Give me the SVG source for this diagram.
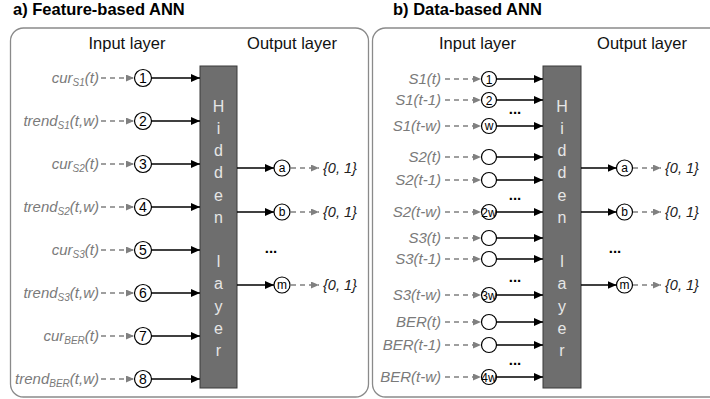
<svg xmlns="http://www.w3.org/2000/svg" width="710" height="399" viewBox="0 0 710 399">
  <defs>
    <style>
      .panel { fill: #ffffff; stroke: #8a8a8a; stroke-width: 1.3; }
      .title { font-family: "Liberation Sans", Arial, sans-serif; font-weight: bold; font-size: 16.5px; fill: #000; }
      .layer { font-family: "Liberation Sans", Arial, sans-serif; font-size: 16.5px; fill: #111; text-anchor: middle; }
      .lbl { font-family: "Liberation Sans", Arial, sans-serif; font-style: italic; font-size: 15px; fill: #7a7a7a; text-anchor: end; }
      .out { font-family: "Liberation Sans", Arial, sans-serif; font-style: italic; font-size: 14.5px; fill: #222; }
      .node { fill: #ffffff; stroke: #000; stroke-width: 1.2; }
      .num { font-family: "Liberation Sans", Arial, sans-serif; font-size: 14px; fill: #000; text-anchor: middle; }
      .numsm { font-family: "Liberation Sans", Arial, sans-serif; font-size: 12px; fill: #000; text-anchor: middle; }
      .hidden { fill: #6e6e6e; stroke: #3a3a3a; stroke-width: 1; }
      .hid { font-family: "Liberation Sans", Arial, sans-serif; font-size: 16px; fill: #e6e6e6; text-anchor: middle; }
      .dots { font-family: "Liberation Sans", Arial, sans-serif; font-weight: bold; font-size: 15px; fill: #000; text-anchor: middle; }
      .solid { stroke: #000; stroke-width: 1.3; fill: none; marker-end: url(#arrowBlack); }
      .dash { stroke: #808080; stroke-width: 1.3; stroke-dasharray: 5 4; fill: none; marker-end: url(#arrowGray); }
    </style>
    <marker id="arrowBlack" viewBox="0 0 10 10" refX="10" refY="5" markerWidth="9" markerHeight="8" markerUnits="userSpaceOnUse" orient="auto" preserveAspectRatio="none">
      <path d="M0,0 L10,5 L0,10 z" fill="#000"/>
    </marker>
    <marker id="arrowGray" viewBox="0 0 10 10" refX="10" refY="5" markerWidth="8" markerHeight="7" markerUnits="userSpaceOnUse" orient="auto" preserveAspectRatio="none">
      <path d="M0,0 L10,5 L0,10 z" fill="#808080"/>
    </marker>
  </defs>

  <!-- ===== Panel a: feature-based network ===== -->
  <text class="title" x="13" y="15">a) Feature-based ANN</text>
  <rect id="panelA" class="panel" x="10.5" y="28" width="358" height="369" rx="13"/>
  <text class="layer" x="127" y="49">Input layer</text>
  <text class="layer" x="292" y="49">Output layer</text>

  <g id="hiddenA">
    <rect class="hidden" x="200" y="66" width="37" height="322"/>
    <text class="hid" x="218.5" y="112">H</text>
    <text class="hid" x="218.5" y="134">i</text>
    <text class="hid" x="218.5" y="156">d</text>
    <text class="hid" x="218.5" y="178">d</text>
    <text class="hid" x="218.5" y="201">e</text>
    <text class="hid" x="218.5" y="223">n</text>
    <text class="hid" x="218.5" y="267">l</text>
    <text class="hid" x="218.5" y="289">a</text>
    <text class="hid" x="218.5" y="312">y</text>
    <text class="hid" x="218.5" y="334">e</text>
    <text class="hid" x="218.5" y="356">r</text>
  </g>

  <g id="inputsA">
    <text class="lbl" x="99" y="83">cur<tspan font-size="10" dy="3">S1</tspan><tspan dy="-3">(t)</tspan></text>
    <text class="lbl" x="99" y="126">trend<tspan font-size="10" dy="3">S1</tspan><tspan dy="-3">(t,w)</tspan></text>
    <text class="lbl" x="99" y="169">cur<tspan font-size="10" dy="3">S2</tspan><tspan dy="-3">(t)</tspan></text>
    <text class="lbl" x="99" y="212">trend<tspan font-size="10" dy="3">S2</tspan><tspan dy="-3">(t,w)</tspan></text>
    <text class="lbl" x="99" y="255">cur<tspan font-size="10" dy="3">S3</tspan><tspan dy="-3">(t)</tspan></text>
    <text class="lbl" x="99" y="298">trend<tspan font-size="10" dy="3">S3</tspan><tspan dy="-3">(t,w)</tspan></text>
    <text class="lbl" x="99" y="341">cur<tspan font-size="10" dy="3">BER</tspan><tspan dy="-3">(t)</tspan></text>
    <text class="lbl" x="99" y="384">trend<tspan font-size="10" dy="3">BER</tspan><tspan dy="-3">(t,w)</tspan></text>
  </g>

  <g id="nodeA1"><circle class="node" cx="143" cy="78" r="8.5"/><text class="num" x="143" y="83">1</text></g>
  <g id="nodeA2"><circle class="node" cx="143" cy="121" r="8.5"/><text class="num" x="143" y="126">2</text></g>
  <g id="nodeA3"><circle class="node" cx="143" cy="164" r="8.5"/><text class="num" x="143" y="169">3</text></g>
  <g id="nodeA4"><circle class="node" cx="143" cy="207" r="8.5"/><text class="num" x="143" y="212">4</text></g>
  <g id="nodeA5"><circle class="node" cx="143" cy="250" r="8.5"/><text class="num" x="143" y="255">5</text></g>
  <g id="nodeA6"><circle class="node" cx="143" cy="293" r="8.5"/><text class="num" x="143" y="298">6</text></g>
  <g id="nodeA7"><circle class="node" cx="143" cy="336" r="8.5"/><text class="num" x="143" y="341">7</text></g>
  <g id="nodeA8"><circle class="node" cx="143" cy="379" r="8.5"/><text class="num" x="143" y="384">8</text></g>

  <g id="outA_a"><circle class="node" cx="282" cy="168" r="8"/><text class="numsm" x="282" y="172">a</text></g>
  <g id="outA_b"><circle class="node" cx="282" cy="212" r="8"/><text class="numsm" x="282" y="216">b</text></g>
  <g id="outA_m"><circle class="node" cx="282" cy="285" r="8"/><text class="numsm" x="282" y="289">m</text></g>
  <text class="dots" x="271" y="253">...</text>
  <text class="out" x="323" y="173">{0, 1}</text>
  <text class="out" x="323" y="217">{0, 1}</text>
  <text class="out" x="323" y="290">{0, 1}</text>

  <g id="connectorsA">
    <path class="dash" d="M101,78 H134"/>
    <path class="dash" d="M101,121 H134"/>
    <path class="dash" d="M101,164 H134"/>
    <path class="dash" d="M101,207 H134"/>
    <path class="dash" d="M101,250 H134"/>
    <path class="dash" d="M101,293 H134"/>
    <path class="dash" d="M101,336 H134"/>
    <path class="dash" d="M101,379 H134"/>
    <path class="solid" d="M151.5,78 H200"/>
    <path class="solid" d="M151.5,121 H200"/>
    <path class="solid" d="M151.5,164 H200"/>
    <path class="solid" d="M151.5,207 H200"/>
    <path class="solid" d="M151.5,250 H200"/>
    <path class="solid" d="M151.5,293 H200"/>
    <path class="solid" d="M151.5,336 H200"/>
    <path class="solid" d="M151.5,379 H200"/>
    <path class="solid" d="M237,168 H274"/>
    <path class="solid" d="M237,212 H274"/>
    <path class="solid" d="M237,285 H274"/>
    <path class="dash" d="M291,168 H319"/>
    <path class="dash" d="M291,212 H319"/>
    <path class="dash" d="M291,285 H319"/>
  </g>

  <!-- ===== Panel b: data-based network ===== -->
  <text class="title" x="393" y="15">b) Data-based ANN</text>
  <rect id="panelB" class="panel" x="372.5" y="28" width="350" height="369" rx="13"/>
  <text class="layer" x="477.5" y="49">Input layer</text>
  <text class="layer" x="642" y="49">Output layer</text>

  <g id="hiddenB">
    <rect class="hidden" x="543" y="66" width="38" height="322"/>
    <text class="hid" x="562" y="112">H</text>
    <text class="hid" x="562" y="134">i</text>
    <text class="hid" x="562" y="156">d</text>
    <text class="hid" x="562" y="178">d</text>
    <text class="hid" x="562" y="201">e</text>
    <text class="hid" x="562" y="223">n</text>
    <text class="hid" x="562" y="267">l</text>
    <text class="hid" x="562" y="289">a</text>
    <text class="hid" x="562" y="312">y</text>
    <text class="hid" x="562" y="334">e</text>
    <text class="hid" x="562" y="356">r</text>
  </g>

  <g id="inputsB">
    <text class="lbl" x="441" y="84">S1(t)</text>
    <text class="lbl" x="441" y="105">S1(t-1)</text>
    <text class="lbl" x="441" y="131">S1(t-w)</text>
    <text class="lbl" x="441" y="162">S2(t)</text>
    <text class="lbl" x="441" y="185">S2(t-1)</text>
    <text class="lbl" x="441" y="217">S2(t-w)</text>
    <text class="lbl" x="441" y="243">S3(t)</text>
    <text class="lbl" x="441" y="264">S3(t-1)</text>
    <text class="lbl" x="441" y="300">S3(t-w)</text>
    <text class="lbl" x="441" y="327">BER(t)</text>
    <text class="lbl" x="441" y="350">BER(t-1)</text>
    <text class="lbl" x="441" y="382">BER(t-w)</text>
  </g>

  <g id="nodeB1"><circle class="node" cx="489" cy="79" r="7.5"/><text class="numsm" x="489" y="83.5">1</text></g>
  <g id="nodeB2"><circle class="node" cx="489" cy="100" r="7.5"/><text class="numsm" x="489" y="104.5">2</text></g>
  <g id="nodeBw"><circle class="node" cx="489" cy="126" r="7.5"/><text class="numsm" x="489" y="130">w</text></g>
  <g id="nodeB4"><circle class="node" cx="489" cy="157" r="7.5"/></g>
  <g id="nodeB5"><circle class="node" cx="489" cy="180" r="7.5"/></g>
  <g id="nodeB2w"><circle class="node" cx="489" cy="212" r="7.5"/><text class="numsm" x="489" y="216.5">2w</text></g>
  <g id="nodeB7"><circle class="node" cx="489" cy="238" r="7.5"/></g>
  <g id="nodeB8"><circle class="node" cx="489" cy="259" r="7.5"/></g>
  <g id="nodeB3w"><circle class="node" cx="489" cy="295" r="7.5"/><text class="numsm" x="489" y="299.5">3w</text></g>
  <g id="nodeB10"><circle class="node" cx="489" cy="322" r="7.5"/></g>
  <g id="nodeB11"><circle class="node" cx="489" cy="345" r="7.5"/></g>
  <g id="nodeB4w"><circle class="node" cx="489" cy="377" r="7.5"/><text class="numsm" x="489" y="381.5">4w</text></g>
  <text class="dots" x="515" y="114">...</text>
  <text class="dots" x="515" y="200">...</text>
  <text class="dots" x="515" y="282">...</text>
  <text class="dots" x="515" y="365">...</text>

  <g id="outB_a"><circle class="node" cx="624.5" cy="168" r="8"/><text class="numsm" x="624.5" y="172">a</text></g>
  <g id="outB_b"><circle class="node" cx="624.5" cy="212" r="8"/><text class="numsm" x="624.5" y="216">b</text></g>
  <g id="outB_m"><circle class="node" cx="624.5" cy="285" r="8"/><text class="numsm" x="624.5" y="289">m</text></g>
  <text class="dots" x="615" y="253">...</text>
  <text class="out" x="665" y="173">{0, 1}</text>
  <text class="out" x="665" y="217">{0, 1}</text>
  <text class="out" x="665" y="290">{0, 1}</text>

  <g id="connectorsB">
    <path class="dash" d="M445,79 H481"/>
    <path class="dash" d="M445,100 H481"/>
    <path class="dash" d="M445,126 H481"/>
    <path class="dash" d="M445,157 H481"/>
    <path class="dash" d="M445,180 H481"/>
    <path class="dash" d="M445,212 H481"/>
    <path class="dash" d="M445,238 H481"/>
    <path class="dash" d="M445,259 H481"/>
    <path class="dash" d="M445,295 H481"/>
    <path class="dash" d="M445,322 H481"/>
    <path class="dash" d="M445,345 H481"/>
    <path class="dash" d="M445,377 H481"/>
    <path class="solid" d="M496.5,79 H543"/>
    <path class="solid" d="M496.5,100 H543"/>
    <path class="solid" d="M496.5,126 H543"/>
    <path class="solid" d="M496.5,157 H543"/>
    <path class="solid" d="M496.5,180 H543"/>
    <path class="solid" d="M496.5,212 H543"/>
    <path class="solid" d="M496.5,238 H543"/>
    <path class="solid" d="M496.5,259 H543"/>
    <path class="solid" d="M496.5,295 H543"/>
    <path class="solid" d="M496.5,322 H543"/>
    <path class="solid" d="M496.5,345 H543"/>
    <path class="solid" d="M496.5,377 H543"/>
    <path class="solid" d="M581,168 H616.5"/>
    <path class="solid" d="M581,212 H616.5"/>
    <path class="solid" d="M581,285 H616.5"/>
    <path class="dash" d="M633,168 H661"/>
    <path class="dash" d="M633,212 H661"/>
    <path class="dash" d="M633,285 H661"/>
  </g>
</svg>
